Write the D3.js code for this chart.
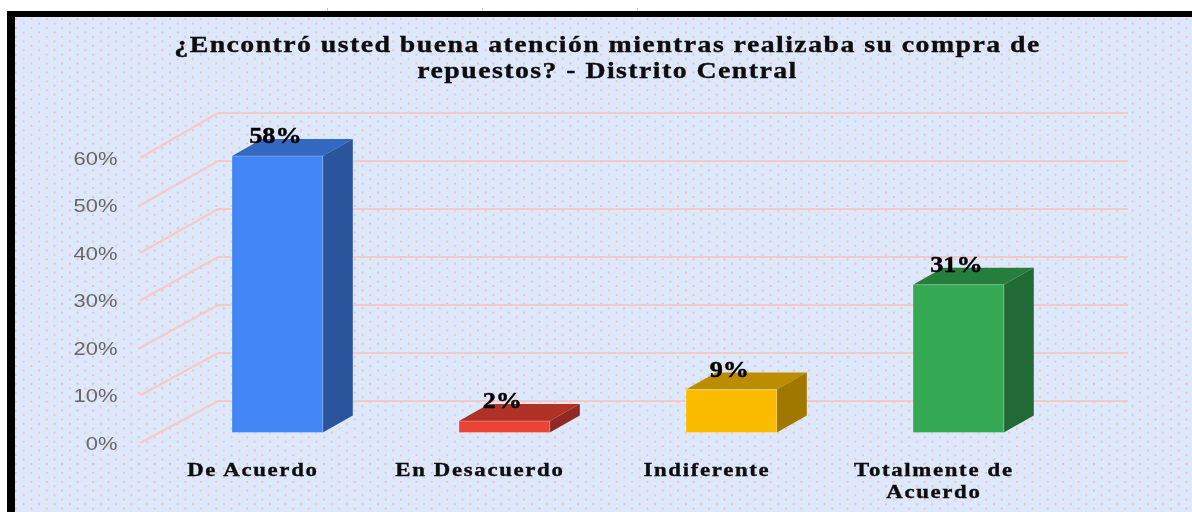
<!DOCTYPE html>
<html lang="es">
<head>
<meta charset="utf-8">
<script src="https://cdn.jsdelivr.net/npm/d3@7/dist/d3.min.js"></script>
<style>
html,body{margin:0;padding:0;background:#fff;overflow:hidden}
svg{display:block}
</style>
</head>
<body>
<svg id="chart" width="1192" height="512" role="img"></svg>
<script>
const titleLines = ["¿Encontró usted buena atención mientras realizaba su compra de", "repuestos? - Distrito Central"];
const categories = ["De Acuerdo", "En Desacuerdo", "Indiferente", "Totalmente de Acuerdo"];
const categoryLines = [["De Acuerdo"], ["En Desacuerdo"], ["Indiferente"], ["Totalmente de", "Acuerdo"]];
const values = [0.58, 0.024, 0.09, 0.31];
const axisTicks = [0, 0.1, 0.2, 0.3, 0.4, 0.5, 0.6];
const frontColors = ["#4285f4", "#ea4335", "#fbbc04", "#34a853"];
const topColors = ["#3367bf", "#b03227", "#bc8d03", "#277e3e"];
const sideColors = ["#2a549c", "#8f2a20", "#a07800", "#236b35"];

const svg = d3.select("#chart");
const W = 1192, H = 512;
const stretch = 1.22;

const defs = svg.append("defs");
const pat = defs.append("pattern").attr("id", "dots").attr("patternUnits", "userSpaceOnUse")
  .attr("x", 15).attr("y", 18).attr("width", 15.4).attr("height", 8.9);
pat.append("rect").attr("width", 15.4).attr("height", 8.9).attr("fill", "#dce8fb");
pat.append("rect").attr("x", 0).attr("y", 0).attr("width", 2).attr("height", 2).attr("fill", "#f9bdb8");
pat.append("rect").attr("x", 7.7).attr("y", 4.45).attr("width", 2).attr("height", 2).attr("fill", "#f9bdb8");
defs.append("filter").attr("id", "soft").attr("filterUnits", "userSpaceOnUse")
  .attr("x", 0).attr("y", 0).attr("width", W).attr("height", H)
  .append("feGaussianBlur").attr("stdDeviation", 0.6);

const root = svg.append("g").attr("filter", "url(#soft)");
root.append("rect").attr("width", W).attr("height", H).attr("fill", "#fff");

// Frame
root.append("rect").attr("x", 7).attr("y", 11).attr("width", W - 7).attr("height", H - 11).attr("fill", "#000");
root.append("rect").attr("x", 15).attr("y", 17).attr("width", W - 15).attr("height", H - 17).attr("fill", "url(#dots)");
root.selectAll("line.crop").data([327.5, 482.5, 637.5]).join("line").attr("class", "crop")
  .attr("x1", d => d).attr("x2", d => d).attr("y1", 8).attr("y2", 11)
  .attr("stroke", "#c4c4c4").attr("stroke-width", 1);

// Scales: front edge of the floor, back wall, and bar plane
const yFront = d3.scaleLinear().domain([0, 0.6]).range([443, 158]);
const yBack = d3.scaleLinear().domain([0, 0.6]).range([401, 113]);
const yBar = d3.scaleLinear().domain([0, 0.6]).range([432.5, 146.5]);
const x = d3.scaleBand().domain(categories).range([163.9, 1071.9]).paddingInner(0.6).paddingOuter(0.3);
const xFrontEdge = 140, xBackEdge = 218, xEnd = 1128;
const depthX = 30, depthY = 17;

// Grid
const grid = root.append("g").attr("stroke", "#f6c9c7").attr("stroke-width", 2.2).attr("fill", "none");
grid.selectAll("path").data(axisTicks).join("path")
  .attr("d", t => `M${xFrontEdge},${yFront(t)}L${xBackEdge},${yBack(t)}L${xEnd},${yBack(t)}`);

// Axis labels
const axis = d3.axisLeft(yFront).tickValues(axisTicks).tickFormat(d3.format(".0%")).tickSize(0).tickPadding(0);
const axisG = root.append("g").attr("transform", "translate(117.5,0)").call(axis);
axisG.select(".domain").remove();
axisG.selectAll("text")
  .attr("x", 0).attr("y", 0).attr("dy", null)
  .attr("transform", `scale(${stretch},1)`)
  .attr("dominant-baseline", "central")
  .attr("font-family", "'Liberation Sans', Arial, sans-serif").attr("font-size", 18)
  .attr("text-anchor", "end").attr("fill", "#676767");

// Bars
const bars = root.selectAll("g.bar").data(categories).join("g").attr("class", "bar");
bars.append("path").attr("fill", (d, i) => topColors[i])
  .attr("d", (d, i) => {
    const l = x(d), r = l + x.bandwidth(), t = yBar(values[i]);
    return `M${l},${t}L${l + depthX},${t - depthY}L${r + depthX},${t - depthY}L${r},${t}Z`;
  });
bars.append("path").attr("fill", (d, i) => sideColors[i])
  .attr("d", (d, i) => {
    const r = x(d) + x.bandwidth(), t = yBar(values[i]), b = yBar(0);
    return `M${r},${t}L${r + depthX},${t - depthY}L${r + depthX},${b - depthY}L${r},${b}Z`;
  });
bars.append("rect").attr("fill", (d, i) => frontColors[i])
  .attr("stroke", "#ffffff").attr("stroke-opacity", 0.25).attr("stroke-width", 1)
  .attr("x", d => x(d)).attr("width", x.bandwidth())
  .attr("y", (d, i) => yBar(values[i])).attr("height", (d, i) => yBar(0) - yBar(values[i]));

const serif = "'Liberation Serif', 'Times New Roman', serif";
function stretched(sel, cx, y, sx, heavy) {
  sel.attr("transform", `translate(${cx},${y}) scale(${sx},1)`).attr("text-anchor", "middle")
    .attr("stroke", sel.attr("fill")).attr("stroke-width", heavy);
}

// Value labels
root.selectAll("text.val").data(categories).join("text").attr("class", "val")
  .text((d, i) => d3.format(".0%")(values[i]))
  .attr("font-family", serif).attr("font-weight", 700).attr("font-size", 23).attr("fill", "#000")
  .each(function (d, i) {
    stretched(d3.select(this), x(d) + x.bandwidth() / 2 - 2, yBar(values[i]) - 13, 1.14, 0.45);
  });

// Category labels
categories.forEach((c, i) => {
  categoryLines[i].forEach((line, k) => {
    const t = root.append("text").text(line)
      .attr("font-family", serif).attr("font-weight", 700).attr("font-size", 19).attr("fill", "#0d0d0d")
      .attr("letter-spacing", 1.4);
    stretched(t, x(c) + x.bandwidth() / 2 - 24.5, 475.5 + k * 22.5, 1.2, 0.35);
  });
});

// Title
titleLines.forEach((line, k) => {
  const t = root.append("text").text(line)
    .attr("font-family", serif).attr("font-weight", 700).attr("font-size", 24).attr("fill", "#0d0d0d")
    .attr("letter-spacing", 1.24);
  stretched(t, 607.5, 52 + k * 26, 1.16, 0.35);
});
</script>
</body>
</html>
